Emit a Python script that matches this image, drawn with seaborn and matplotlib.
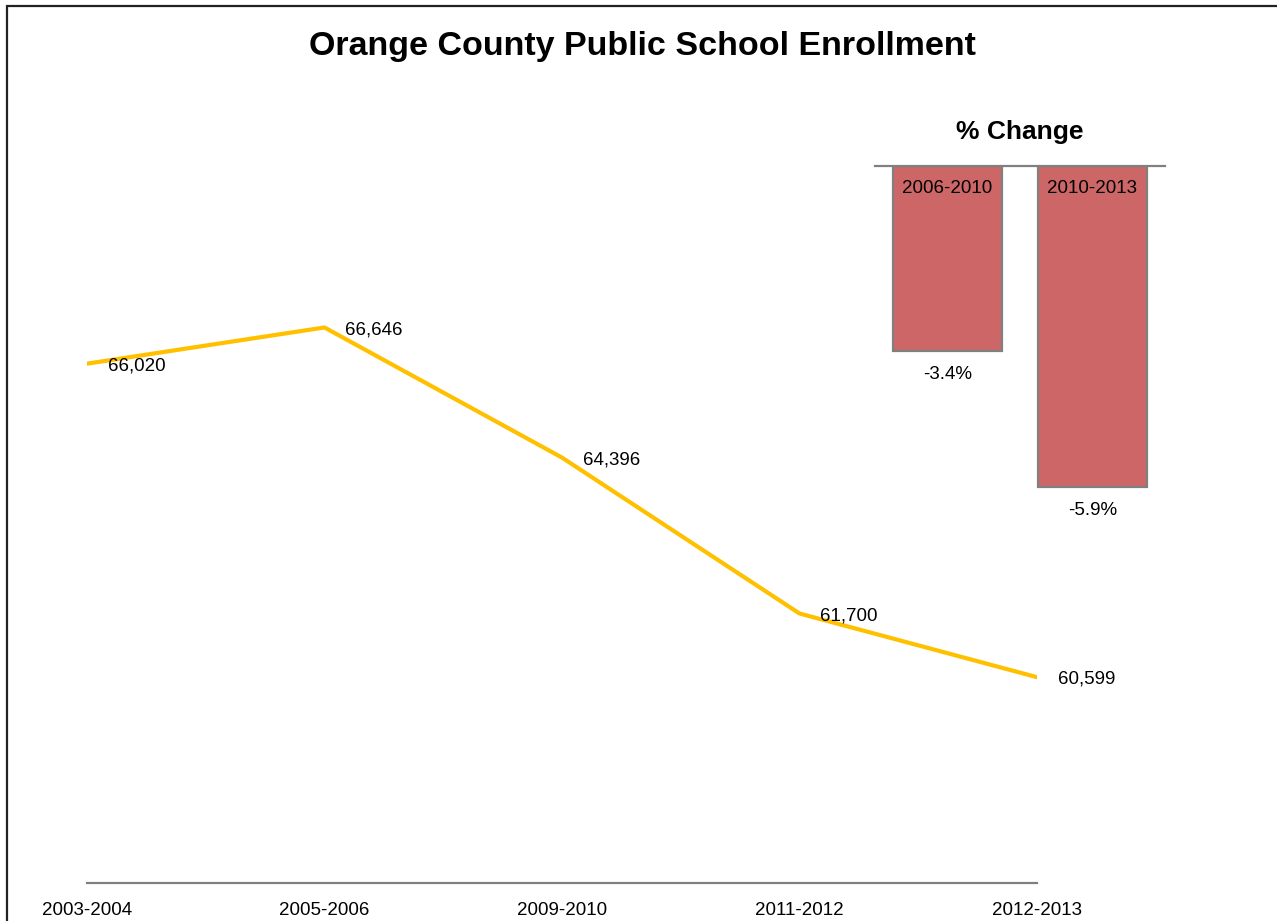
import matplotlib
matplotlib.use("Agg")
import matplotlib.pyplot as plt
import matplotlib.patches as mpatches
import seaborn as sns
import pandas as pd

# Enrollment by school year
school_years = ["2003-2004", "2005-2006", "2009-2010", "2011-2012", "2012-2013"]
enrollment = [66020, 66646, 64396, 61700, 60599]

# Percent change over two periods
change_periods = ["2006-2010", "2010-2013"]
pct_change = [-3.4, -5.9]

sns.set_theme(style="white")
plt.rcParams["font.family"] = ["Liberation Sans", "DejaVu Sans"]

W, H = 1277, 921
fig = plt.figure(figsize=(W / 100, H / 100), dpi=100)
fig.patch.set_facecolor("white")


def px_axes(left, top, right, bottom):
    return fig.add_axes([left / W, 1 - bottom / H, (right - left) / W, (bottom - top) / H])


# Frame around the chart
fig.add_artist(mpatches.Rectangle((7 / W, -0.05), 1.2, 0.9935 + 0.05,
                                  transform=fig.transFigure, fill=False,
                                  edgecolor="#222222", linewidth=1.6))

fig.text(642 / W, 1 - 47 / H, "Orange County Public School Enrollment",
         ha="center", va="center", fontsize=24.5, fontweight="bold", color="black")

# Main line chart
ax = px_axes(87, 307, 1037, 883)
df = pd.DataFrame({"pos": range(len(school_years)), "enrollment": enrollment})
sns.lineplot(data=df, x="pos", y="enrollment", ax=ax, color="#FFC000",
             linewidth=3.0, legend=False)
ax.set_xlim(0, len(school_years) - 1)
ax.set_ylim(57040, 67000)
ax.set_xticks(range(len(school_years)))
ax.set_xticklabels(school_years, fontsize=13.5, color="black")
ax.set_yticks([])
ax.set_xlabel("")
ax.set_ylabel("")
ax.tick_params(axis="x", length=0, pad=13.5)
for side in ["top", "left", "right"]:
    ax.spines[side].set_visible(False)
ax.spines["bottom"].set_color("#808080")
ax.spines["bottom"].set_linewidth(1.6)
ax.patch.set_alpha(0)
for i, v in enumerate(enrollment):
    ax.annotate(f"{v:,}", (i, v), xytext=(15, -1.5), textcoords="offset points",
                ha="left", va="center", fontsize=13.5, color="black")

# Inset bar chart of percent change
ax2 = px_axes(875, 166, 1165, 520)
bdf = pd.DataFrame({"period": change_periods, "pct": pct_change})
sns.barplot(data=bdf, x="period", y="pct", ax=ax2, color="#CD6666",
            saturation=1, width=0.745, edgecolor="#808080", linewidth=1.6)
ax2.set_xlim(-0.5, 1.5)
ax2.set_ylim(-6.5, 0)
ax2.set_xticks([])
ax2.set_yticks([])
ax2.set_xlabel("")
ax2.set_ylabel("")
for side in ["bottom", "left", "right"]:
    ax2.spines[side].set_visible(False)
ax2.spines["top"].set_color("#808080")
ax2.spines["top"].set_linewidth(1.6)
ax2.patch.set_alpha(0)
for i, (p, v) in enumerate(zip(change_periods, pct_change)):
    ax2.annotate(p, (i, 0), xytext=(0, -16.5), textcoords="offset points",
                 ha="center", va="center", fontsize=13.5, color="black")
    ax2.annotate(f"{v:.1f}%", (i, v), xytext=(0, -16.5), textcoords="offset points",
                 ha="center", va="center", fontsize=13.5, color="black")
ax2.text(0.5, 1 + 34 / 354, "% Change", transform=ax2.transAxes, ha="center",
         va="center", fontsize=19, fontweight="bold", color="black")

fig.savefig("out.png", dpi=100)
